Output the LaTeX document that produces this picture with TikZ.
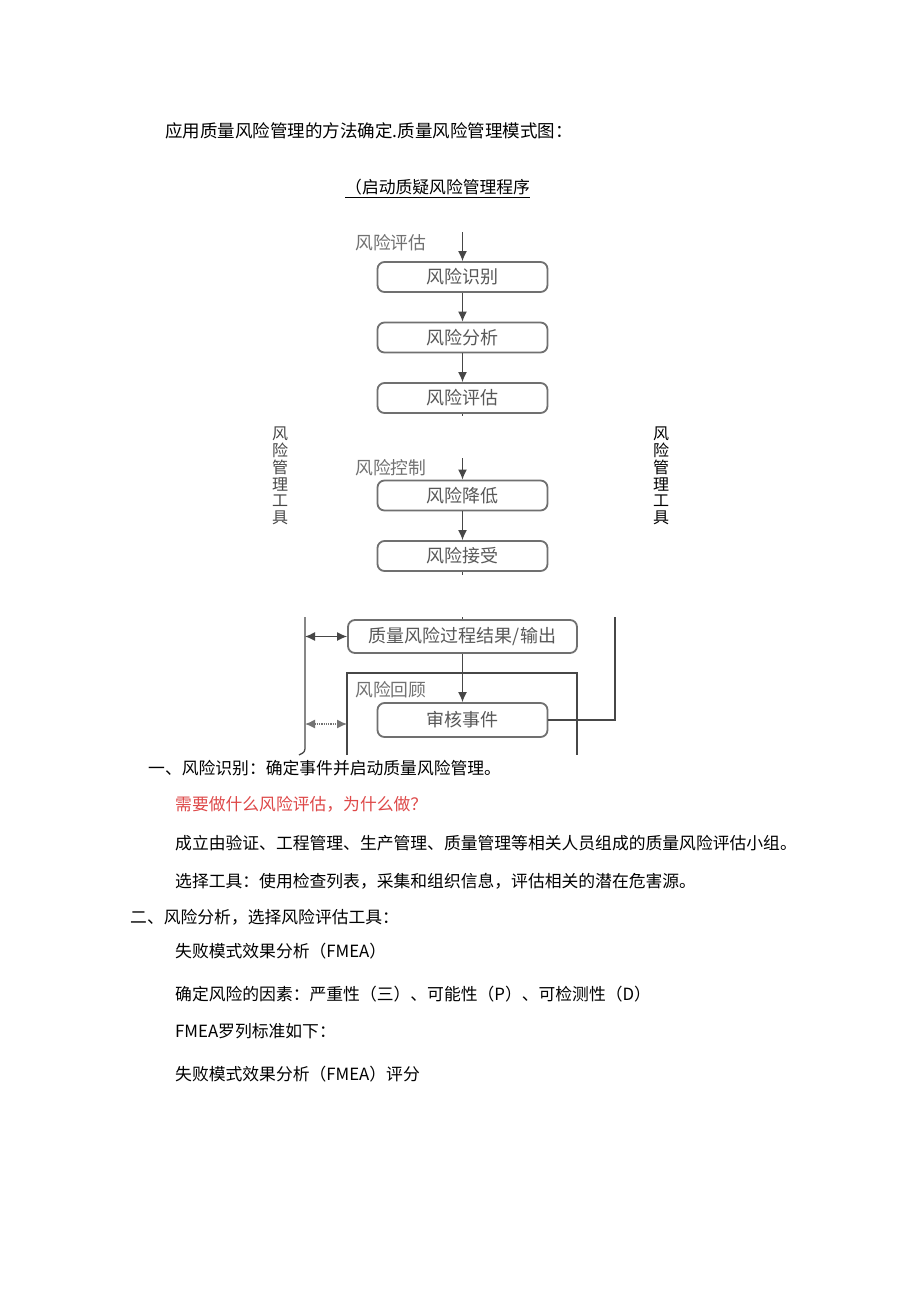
\documentclass[tikz,border=0pt]{standalone}
\usepackage{fontspec}
\setmainfont{Noto Sans CJK SC}
\usepackage{xcolor}
\usetikzlibrary{arrows.meta,positioning}
\definecolor{boxgray}{RGB}{112,112,112}
\definecolor{textgray}{RGB}{88,88,88}
\definecolor{notered}{RGB}{222,72,72}

\begin{document}
\begin{tikzpicture}[x=1pt,y=-1pt,>={Latex[length=10pt,width=9pt]},
    stepbox/.style={draw=boxgray,line width=1.8pt,rounded corners=7pt,minimum width=170pt,minimum height=30pt,inner sep=0pt,text=textgray,font=\fontsize{18}{18}\selectfont},
    phase/.style={anchor=west,inner sep=0pt,text=textgray!85,font=\fontsize{17.8}{18}\selectfont},
    line/.style={anchor=west,inner sep=0pt,font=\fontsize{16.8}{17}\selectfont},
    flow/.style={draw=black!72,line width=1.3pt},
    side/.style={align=center,inner sep=0pt,font=\fontsize{16}{16.7}\selectfont}]
    \useasboundingbox[fill=white] (0,0) rectangle (920,1301);
    % heading
    \node (head) at (165,131) [line,font=\fontsize{17.5}{18}\selectfont]{应用质量风险管理的方法确定.质量风险管理模式图：};
    \node (start) at (345,187) [line]{（启动质疑风险管理程序};
    \draw ([yshift=-2pt]start.south west) -- ([yshift=-2pt]start.south east);
    % assessment
    \node (assess) at (355,243) [phase]{风险评估};
    \node (ident) at (462.5,277) [stepbox]{风险识别};
    \node (anal) at (462.5,337.5) [stepbox]{风险分析};
    \node (eval) at (462.5,398) [stepbox]{风险评估};
    % control
    \node (control) at (355,468) [phase]{风险控制};
    \node (reduce) at (462.5,495.5) [stepbox]{风险降低};
    \node (accept) at (462.5,556) [stepbox]{风险接受};
    % output and review
    \node (output) at (462.5,636.5) [stepbox,minimum width=229pt,minimum height=33pt]{质量风险过程结果/输出};
    \node (look) at (355,690) [phase]{风险回顾};
    \node (review) at (462.5,720) [stepbox,minimum height=34pt]{审核事件};
    % tools
    \node (lefttool) at (280,476) [side,text=black!72]{风\\险\\管\\理\\工\\具};
    \node (righttool) at (661,476) [side]{风\\险\\管\\理\\工\\具};
    % edges
    \coordinate (in1) at (462.5,232);
    \coordinate (out1) at (462.5,416);
    \coordinate (in2) at (462.5,458);
    \coordinate (out2) at (462.5,575);
    \coordinate (in3) at (462.5,617);
    \draw[flow,->] (in1) -- (ident);
    \draw[flow,->] (ident) -- (anal);
    \draw[flow,->] (anal) -- (eval);
    \draw[flow] (eval) -- (out1);
    \draw[flow,->] (in2) -- (reduce);
    \draw[flow,->] (reduce) -- (accept);
    \draw[flow] (accept) -- (out2);
    \draw[flow] (in3) -- (output);
    \draw[flow,->] (output) -- (review);
    % loop back on the right
    \coordinate (rtop) at (615,617);
    \draw[flow] (review.east) -| (rtop);
    % review frame
    \draw[flow] (347,755) |- (577,673) -- (577,755);
    % rail on the left
    \coordinate (ltop) at (305,617);
    \coordinate (lbot) at (299,755);
    \draw[flow] (ltop) -- (305,745) .. controls (305,752) .. (lbot);
    \coordinate (l1) at (305,636.5);
    \coordinate (l2) at (305,724);
    \coordinate (f2) at (347,724);
    \draw[flow,<->] (l1) -- (output.west);
    \draw[flow,<->,densely dotted,draw=black!55] (l2) -- (f2);
    % text below
    \node (s1) at (148,768) [line]{一、风险识别：确定事件并启动质量风险管理。};
    \node (s1a) at (175,804) [line,text=notered]{需要做什么风险评估，为什么做？};
    \node (s1b) at (175,843) [line]{成立由验证、工程管理、生产管理、质量管理等相关人员组成的质量风险评估小组。};
    \node (s1c) at (175,881) [line]{选择工具：使用检查列表，采集和组织信息，评估相关的潜在危害源。};
    \node (s2) at (130,917) [line]{二、风险分析，选择风险评估工具：};
    \node (s2a) at (175,951) [line]{失败模式效果分析（FMEA）};
    \node (s2b) at (175,994) [line]{确定风险的因素：严重性（三）、可能性（P）、可检测性（D）};
    \node (s2c) at (175,1031) [line]{FMEA罗列标准如下：};
    \node (s2d) at (175,1074) [line]{失败模式效果分析（FMEA）评分};
\end{tikzpicture}
\end{document}
